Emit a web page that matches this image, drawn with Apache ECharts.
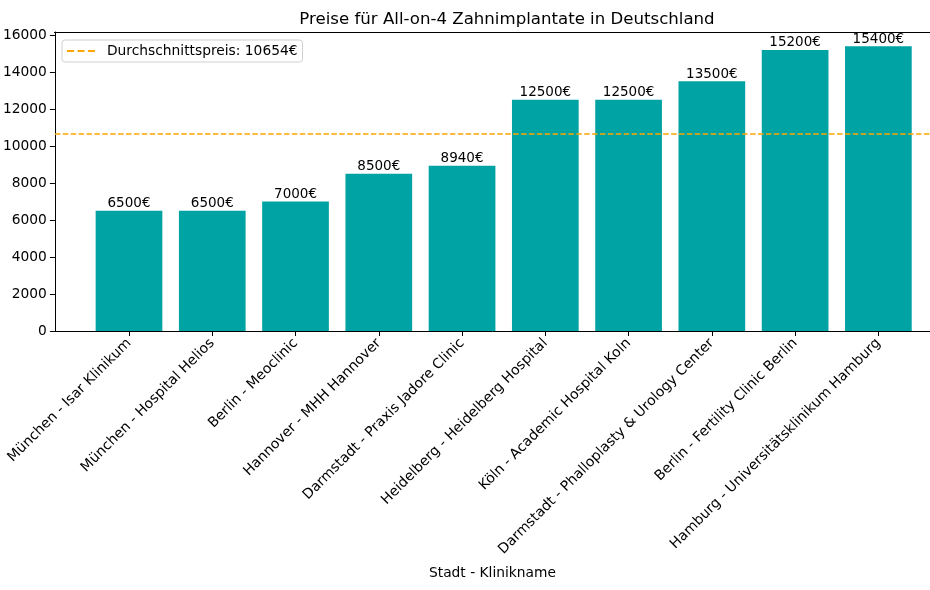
<!DOCTYPE html>
<html><head><meta charset="utf-8">
<script src="https://cdn.jsdelivr.net/npm/echarts@6/dist/echarts.min.js"></script>
<style>html,body{margin:0;padding:0;background:#fff}#c{width:930px;height:590px}</style>
</head><body><div id="c"></div>
<script>
const categories = ["München - Isar Klinikum","München - Hospital Helios","Berlin - Meoclinic","Hannover - MHH Hannover","Darmstadt - Praxis Jadore Clinic","Heidelberg - Heidelberg Hospital","Köln - Academic Hospital Koln","Darmstadt - Phalloplasty & Urology Center","Berlin - Fertility Clinic Berlin","Hamburg - Universitätsklinikum Hamburg"];
const prices = [6500,6500,7000,8500,8940,12500,12500,13500,15200,15400];
const meanPrice = 10654;
const yTicks = [0,2000,4000,6000,8000,10000,12000,14000,16000];

const FONT = 'DejaVu Sans';
const chart = echarts.init(document.getElementById('c'), null, {renderer:'canvas'});
const xMin = -0.89, xMax = 9.62;
chart.setOption({
  animation:false,
  textStyle:{fontFamily:FONT},
  title:{text:'Preise für All-on-4 Zahnimplantate in Deutschland',left:502,top:6,textAlign:'center',
    textStyle:{fontFamily:FONT,fontSize:16.6,fontWeight:'normal',color:'#000'}},
  legend:{left:62,top:40,orient:'vertical',borderColor:'#d0d0d0',borderWidth:1,borderRadius:3,padding:[4,5,4,5],
    itemWidth:28,itemHeight:2,itemGap:4,
    textStyle:{fontFamily:FONT,fontSize:13.8,color:'#000',padding:[0,0,0,7]},
    data:[{name:'Durchschnittspreis: '+meanPrice+'€',icon:'path://M0,0h7v2h-7zM10.5,0h7v2h-7zM21,0h7v2h-7z',
      itemStyle:{color:'#FFA500'}}]},
  grid:{left:54,top:32,right:0,bottom:259,containLabel:false},
  xAxis:{type:'value',min:xMin,max:xMax,
    name:'Stadt - Klinikname',nameLocation:'middle',nameGap:235,
    nameTextStyle:{fontFamily:FONT,fontSize:13.8,color:'#000'},
    axisLine:{show:true,onZero:false,lineStyle:{color:'#000',width:1}},
    splitLine:{show:false},
    axisTick:{show:true,customValues:[0,1,2,3,4,5,6,7,8,9],length:5,lineStyle:{color:'#000'}},
    axisLabel:{customValues:[0,1,2,3,4,5,6,7,8,9],rotate:45,margin:10,fontFamily:FONT,fontSize:14,color:'#000',
      formatter:v=>categories[Math.round(v)]||''}
  },
  yAxis:{type:'value',min:0,max:16170,
    axisLine:{show:true,onZero:false,lineStyle:{color:'#000',width:1}},
    splitLine:{show:false},
    axisTick:{show:true,customValues:yTicks,length:5,lineStyle:{color:'#000'}},
    axisLabel:{customValues:yTicks,fontFamily:FONT,fontSize:13.8,color:'#000',margin:8,formatter:v=>String(v)}
  },
  graphic:[{type:'line',shape:{x1:54,y1:32.5,x2:930,y2:32.5},style:{stroke:'#000',lineWidth:1},z:100}],
  series:[
    {type:'bar',barWidth:66.7,itemStyle:{color:'#00A3A3'},
     data:prices.map((p,i)=>[i,p]),
     label:{show:true,position:'top',distance:0,fontFamily:FONT,fontSize:13.5,color:'#000',formatter:p=>p.value[1]+'€'}},
    {type:'line',name:'Durchschnittspreis: '+meanPrice+'€',symbol:'none',
     data:[[xMin,meanPrice],[xMax,meanPrice]],
     lineStyle:{color:'#FFA500',width:1.6,type:[5.5,2.4]},itemStyle:{color:'#FFA500'},z:5}
  ]
});
</script></body></html>
